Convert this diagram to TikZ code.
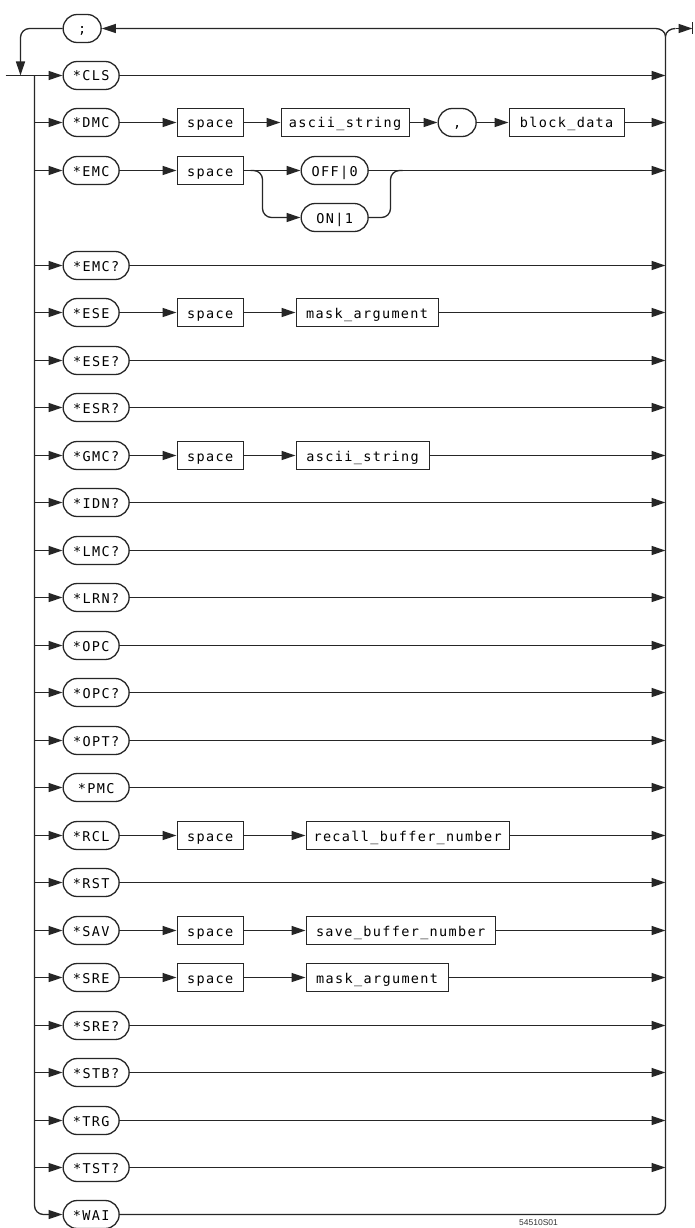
\documentclass[tikz,border=0pt]{standalone}
\usepackage{fontspec}
\newfontfamily\plotfont[LetterSpace=10]{DejaVu Sans Mono}
\newfontfamily\labelfont{Liberation Sans}
\usetikzlibrary{arrows.meta,shapes.misc}
\tikzset{
  ln/.style={line width=1.3pt, draw=black!85},
  arr/.style={ln, -{Triangle[length=14pt,width=9pt]}},
  txt/.style={font=\plotfont\fontsize{13.5}{13.5}\selectfont,
    text height=11.5pt, text depth=0.5pt, inner ysep=0pt},
  cmd/.style={rounded rectangle, ln, txt, minimum height=28pt, minimum width=56pt,
    inner xsep=0pt, anchor=west},
  wcmd/.style={cmd, minimum width=66pt},
  param/.style={rectangle, ln, txt, minimum height=28pt, inner xsep=0pt, anchor=west},
}
\begin{document}
\begin{tikzpicture}[x=1pt,y=-1pt]
\useasboundingbox (0,0) rectangle (694,1228);
\fill[white] (0,0) rectangle (694,1228);
\begin{scope}[shift={(0.5,0.5)}]
% ---------- top loop ----------
\node[cmd, minimum width=38pt] (semi) at (62,28) {;};
\coordinate (entry) at (5,75);
\coordinate (cusp) at (665,36);
\coordinate (tl) at (655,28);
\coordinate (tr) at (675,28);
\coordinate (exitend) at (692,28);
\draw[arr] (cusp) to[out=90,in=0] (tl) -- (semi.east);
\draw[ln] (cusp) to[out=90,in=180] (tr);
\draw[arr] (tr) -- (exitend);
\draw[ln] (692,22) -- (692,34);
\coordinate (ldown) at (20,75);
\draw[arr, rounded corners=9pt] (semi.west) -| (ldown);

% ---------- command ovals ----------
\node[cmd]  (cls)  at (62,75)   {*CLS};
\node[cmd]  (dmc)  at (62,122)  {*DMC};
\node[cmd]  (emc)  at (62,170)  {*EMC};
\node[wcmd] (emcq) at (62,265)  {*EMC?};
\node[cmd]  (ese)  at (62,312)  {*ESE};
\node[wcmd] (eseq) at (62,360)  {*ESE?};
\node[wcmd] (esrq) at (62,407)  {*ESR?};
\node[wcmd] (gmcq) at (62,455)  {*GMC?};
\node[wcmd] (idnq) at (62,502)  {*IDN?};
\node[wcmd] (lmcq) at (62,550)  {*LMC?};
\node[wcmd] (lrnq) at (62,597)  {*LRN?};
\node[cmd]  (opc)  at (62,645)  {*OPC};
\node[wcmd] (opcq) at (62,692)  {*OPC?};
\node[wcmd] (optq) at (62,740)  {*OPT?};
\node[wcmd] (pmc)  at (62,787)  {*PMC};
\node[cmd]  (rcl)  at (62,835)  {*RCL};
\node[cmd]  (rst)  at (62,882)  {*RST};
\node[cmd]  (sav)  at (62,930)  {*SAV};
\node[cmd]  (sre)  at (62,977)  {*SRE};
\node[wcmd] (sreq) at (62,1025) {*SRE?};
\node[wcmd] (stbq) at (62,1072) {*STB?};
\node[cmd]  (trg)  at (62,1120) {*TRG};
\node[wcmd] (tstq) at (62,1167) {*TST?};
\node[cmd]  (wai)  at (62,1214) {*WAI};

% ---------- parameters ----------
\node[param, minimum width=66pt]  (sp1) at (176,122) {space};
\node[param, minimum width=128pt] (as1) at (280,122) {ascii\_string};
\node[cmd, minimum width=38pt]    (comma) at (437,122) {,};
\node[param, minimum width=115pt] (bd) at (508,122) {block\_data};

\node[param, minimum width=66pt]  (sp2) at (176,170) {space};
\node[wcmd, minimum width=67pt]   (off) at (300,170) {OFF|0};
\node[wcmd, minimum width=67pt]   (on)  at (300,217) {ON|1};

\node[param, minimum width=66pt]  (sp3) at (176,312) {space};
\node[param, minimum width=142pt] (ma1) at (295,312) {mask\_argument};

\node[param, minimum width=66pt]  (sp4) at (176,455) {space};
\node[param, minimum width=133pt] (as2) at (295,455) {ascii\_string};

\node[param, minimum width=66pt]  (sp5) at (176,835) {space};
\node[param, minimum width=203pt] (rbn) at (305,835) {recall\_buffer\_number};

\node[param, minimum width=66pt]  (sp6) at (176,930) {space};
\node[param, minimum width=189pt] (sbn) at (305,930) {save\_buffer\_number};

\node[param, minimum width=66pt]  (sp7) at (176,977) {space};
\node[param, minimum width=142pt] (ma2) at (305,977) {mask\_argument};

% ---------- left trunk ----------
\coordinate (ltop) at (34,75);
\draw[arr] (entry) -- (cls.west);
\draw[arr, rounded corners=9pt] (ltop) |- (wai.west);
\foreach \n in {dmc,emc,emcq,ese,eseq,esrq,gmcq,idnq,lmcq,lrnq,opc,opcq,optq,pmc,rcl,rst,sav,sre,sreq,stbq,trg,tstq}
  \draw[arr] (\n.west -| ltop) -- (\n.west);

% ---------- right trunk ----------
\draw[ln, rounded corners=9pt] (wai.east) -| (cusp);
\foreach \n in {cls,emcq,eseq,esrq,idnq,lmcq,lrnq,opc,opcq,optq,pmc,rst,sreq,stbq,trg,tstq}
  \draw[arr] (\n.east) -- (\n.east -| cusp);

% DMC row
\draw[arr] (dmc.east) -- (sp1.west);
\draw[arr] (sp1.east) -- (as1.west);
\draw[arr] (as1.east) -- (comma.west);
\draw[arr] (comma.east) -- (bd.west);
\draw[arr] (bd.east) -- (bd.east -| cusp);

% EMC row
\coordinate (fork) at (262,170);
\coordinate (merge) at (390,170);
\draw[arr] (emc.east) -- (sp2.west);
\draw[arr] (sp2.east) -- (off.west);
\draw[arr, rounded corners=9pt] ([xshift=-12pt]fork) -| (on.west -| fork) -- (on.west);
\draw[ln, rounded corners=9pt] (on.east) -| (merge) -- ([xshift=12pt]merge);
\draw[arr] (off.east) -- (off.east -| cusp);

% ESE row
\draw[arr] (ese.east) -- (sp3.west);
\draw[arr] (sp3.east) -- (ma1.west);
\draw[arr] (ma1.east) -- (ma1.east -| cusp);

% GMC? row
\draw[arr] (gmcq.east) -- (sp4.west);
\draw[arr] (sp4.east) -- (as2.west);
\draw[arr] (as2.east) -- (as2.east -| cusp);

% RCL row
\draw[arr] (rcl.east) -- (sp5.west);
\draw[arr] (sp5.east) -- (rbn.west);
\draw[arr] (rbn.east) -- (rbn.east -| cusp);

% SAV row
\draw[arr] (sav.east) -- (sp6.west);
\draw[arr] (sp6.east) -- (sbn.west);
\draw[arr] (sbn.east) -- (sbn.east -| cusp);

% SRE row
\draw[arr] (sre.east) -- (sp7.west);
\draw[arr] (sp7.east) -- (ma2.west);
\draw[arr] (ma2.east) -- (ma2.east -| cusp);

% figure code
\node[font=\labelfont\fontsize{8.5}{8.5}\selectfont, text=black!80] (code) at (538,1222) {54510S01};
\end{scope}
\end{tikzpicture}
\end{document}
